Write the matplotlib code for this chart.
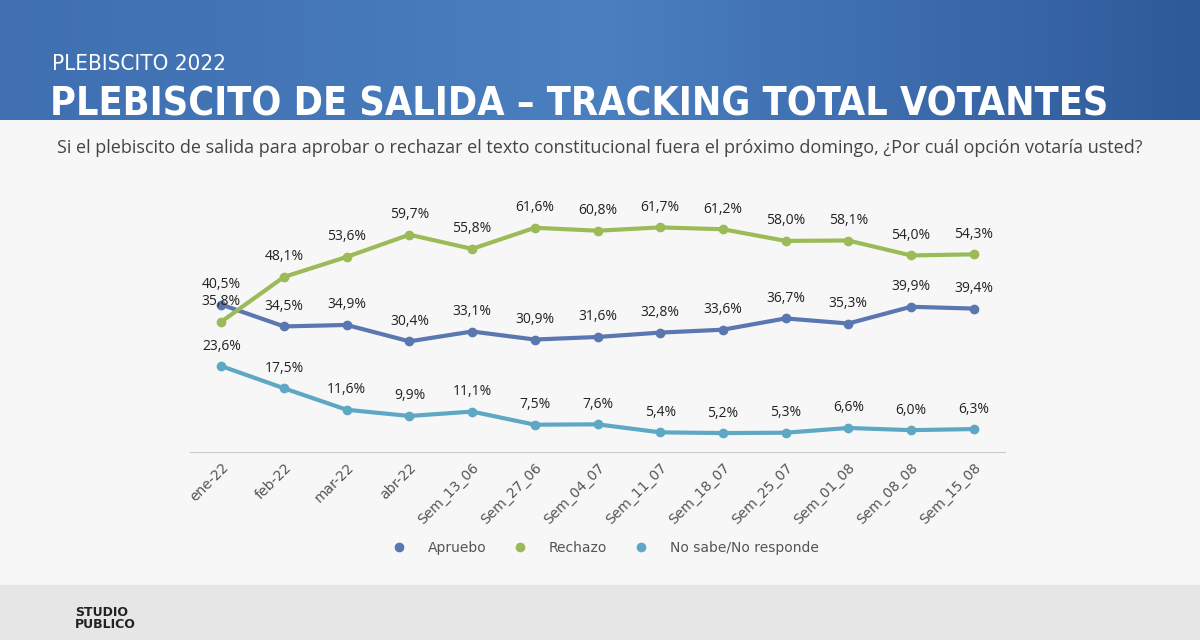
import matplotlib
matplotlib.use("Agg")
import matplotlib.pyplot as plt
import numpy as np
from matplotlib.patches import Rectangle
from matplotlib.colors import LinearSegmentedColormap

categories = ["ene-22","feb-22","mar-22","abr-22","Sem_13_06","Sem_27_06","Sem_04_07",
              "Sem_11_07","Sem_18_07","Sem_25_07","Sem_01_08","Sem_08_08","Sem_15_08"]
apruebo = [40.5,34.5,34.9,30.4,33.1,30.9,31.6,32.8,33.6,36.7,35.3,39.9,39.4]
rechazo = [35.8,48.1,53.6,59.7,55.8,61.6,60.8,61.7,61.2,58.0,58.1,54.0,54.3]
nsnr = [23.6,17.5,11.6,9.9,11.1,7.5,7.6,5.4,5.2,5.3,6.6,6.0,6.3]

c_ap, c_re, c_ns = "#5b77b0", "#9bbb59", "#5fa8c4"

fig = plt.figure(figsize=(12, 6.4), dpi=100)
fig.patch.set_facecolor("#f7f7f7")
grad = np.linspace(0, 1, 256).reshape(1, -1)
hax = fig.add_axes([0, 1-120/640, 1, 120/640])
cm = LinearSegmentedColormap.from_list("g", ["#3f6fb0", "#4a7fc0", "#2f5a9a"])
hax.imshow(grad, aspect="auto", cmap=cm, extent=[0, 1, 0, 1])
hax.axis("off")
fig.text(52/1200, 1-70/640, "PLEBISCITO 2022", color="white", fontsize=16, family="DejaVu Sans", fontstretch="condensed")
title = fig.text(50/1200, 1-115/640, "PLEBISCITO DE SALIDA – TRACKING TOTAL VOTANTES", color="white",
         fontsize=36, family="DejaVu Sans", fontstretch="condensed", fontweight="bold")
fig.canvas.draw()
w = title.get_window_extent().width
title.set_fontsize(36 * 1060 / w)
fig.text(0.5, 1-148/640, "Si el plebiscito de salida para aprobar o rechazar el texto constitucional fuera el próximo domingo, ¿Por cuál opción votaría usted?",
         ha="center", va="center", fontsize=13, color="#444444", family="Open Sans")
fig.patches.append(Rectangle((0, 0), 1, 55/640, transform=fig.transFigure, color="#e6e6e6", zorder=0))
fig.text(75/1200, 22/640, "STUDIO\nPUBLICO", fontsize=9, fontweight="black", color="#222", va="center", linespacing=0.9)

ax = fig.add_axes([190/1200, 1-452/640, 815/1200, 273/640])
ax.set_facecolor("none")
x = np.arange(len(categories))
for y, c, lab in [(apruebo, c_ap, "Apruebo"), (rechazo, c_re, "Rechazo"), (nsnr, c_ns, "No sabe/No responde")]:
    ax.plot(x, y, color=c, lw=3, marker="o", ms=6, label=lab)
    for xi, yi in zip(x, y):
        ax.annotate(f"{yi:.1f}%".replace(".", ","), (xi, yi), xytext=(0, 9), textcoords="offset points",
                    ha="center", va="bottom", fontsize=10, color="#222", family="Open Sans")
ax.set_xlim(-0.5, 12.5)
ax.set_ylim(0, 75)
ax.set_yticks([])
ax.set_xticks(x)
ax.set_xticklabels(categories, rotation=45, ha="right", rotation_mode="anchor", fontsize=10, color="#555")
ax.tick_params(axis="x", length=0, pad=6)
for s in ["top", "right", "left"]:
    ax.spines[s].set_visible(False)
ax.spines["bottom"].set_color("#cccccc")
leg = fig.legend(loc="center", bbox_to_anchor=(0.5, 1-548/640), ncol=3, frameon=False, fontsize=10,
                 handlelength=2.5, columnspacing=1.2)
for h in leg.get_lines():
    h.set_linestyle("none")
for t in leg.get_texts():
    t.set_color("#555")
fig.savefig("out.png", dpi=100, facecolor=fig.get_facecolor())
